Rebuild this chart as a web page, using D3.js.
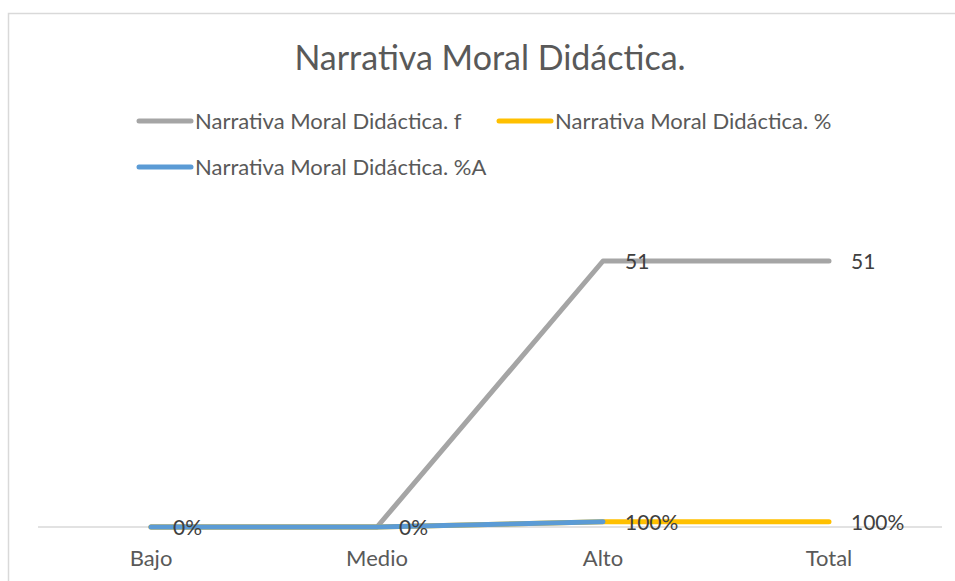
<!DOCTYPE html>
<head>
    <meta charset="utf-8">
    <script src="https://d3js.org/d3.v7.min.js"></script>
    <style type="text/css">
        body { margin: 0; background: #fff; }
        text { font-family: Lato, "Open Sans", sans-serif; fill: #595959; }
    </style>
</head>
<body>

<script type="text/javascript">
    // data
    var categorias = ["Bajo", "Medio", "Alto", "Total"],
        serieF = [0, 0, 51, 51],
        seriePct = [0, 0, 1, 1],
        seriePctA = [0, 0, 1, null],
        etiquetasF = [null, null, "51", "51"],
        etiquetasPct = ["0%", "0%", "100%", "100%"],
        nombres = ["Narrativa Moral Didáctica. f", "Narrativa Moral Didáctica. %", "Narrativa Moral Didáctica. %A"],
        colores = ["#a5a5a5", "#ffc000", "#5b9bd5"],
        titulo = "Narrativa Moral Didáctica.";
</script>

<script type="text/javascript">
    var w = 955, h = 581;

    var svg = d3.select("body").append("svg")
        .attr("width", w)
        .attr("height", h);

    // chart border (open on right and bottom)
    svg.append("path")
        .attr("d", "M8.5," + h + "V13.5H" + w)
        .attr("fill", "none")
        .attr("stroke", "#d9d9d9")
        .attr("stroke-width", 1.5);

    svg.append("text")
        .attr("x", 490).attr("y", 70)
        .attr("text-anchor", "middle")
        .style("font-size", "34px")
        .text(titulo);

    var x = d3.scaleBand().domain(categorias).range([38, 942]);
    var y = d3.scaleLinear().domain([0, 51]).range([527, 261]);

    // axis line
    svg.append("line")
        .attr("x1", x.range()[0]).attr("x2", x.range()[1])
        .attr("y1", y(0)).attr("y2", y(0))
        .attr("stroke", "#d9d9d9").attr("stroke-width", 1.5);

    svg.selectAll("text.cat").data(categorias).enter().append("text")
        .attr("class", "cat")
        .attr("x", function(d) { return x(d) + x.bandwidth() / 2; })
        .attr("y", 566)
        .attr("text-anchor", "middle")
        .style("font-size", "22px")
        .text(function(d) { return d; });

    var cx = function(i) { return x(categorias[i]) + x.bandwidth() / 2; };

    var linea = d3.line()
        .defined(function(d) { return d != null; })
        .x(function(d, i) { return cx(i); })
        .y(function(d) { return y(d); });

    var series = [serieF, seriePct, seriePctA];
    svg.selectAll("path.serie").data(series).enter().append("path")
        .attr("class", "serie")
        .attr("d", linea)
        .attr("fill", "none")
        .attr("stroke", function(d, i) { return colores[i]; })
        .attr("stroke-width", 5)
        .attr("stroke-linecap", "round")
        .attr("stroke-linejoin", "round");

    // data labels
    var labs = [];
    etiquetasF.forEach(function(t, i) { if (t) labs.push({i: i, v: serieF[i], t: t}); });
    etiquetasPct.forEach(function(t, i) { if (t) labs.push({i: i, v: seriePct[i], t: t}); });
    svg.selectAll("text.lab").data(labs).enter().append("text")
        .attr("class", "lab")
        .attr("x", function(d) { return cx(d.i) + 22; })
        .attr("y", function(d) { return y(d.v) + 8; })
        .style("font-size", "21px")
        .style("fill", "#404040")
        .text(function(d) { return d.t; });

    // legend
    var leg = [
        {x: 137, y: 121},
        {x: 497, y: 121},
        {x: 137, y: 167}
    ];
    var lg = svg.selectAll("g.leg").data(nombres).enter().append("g")
        .attr("class", "leg")
        .attr("transform", function(d, i) { return "translate(" + leg[i].x + "," + leg[i].y + ")"; });
    lg.append("line")
        .attr("x1", 2).attr("x2", 54)
        .attr("stroke", function(d, i) { return colores[i]; })
        .attr("stroke-width", 5)
        .attr("stroke-linecap", "round");
    lg.append("text")
        .attr("x", 58).attr("y", 8)
        .style("font-size", "22px")
        .text(function(d) { return d; });
</script>
</body>
</html>
